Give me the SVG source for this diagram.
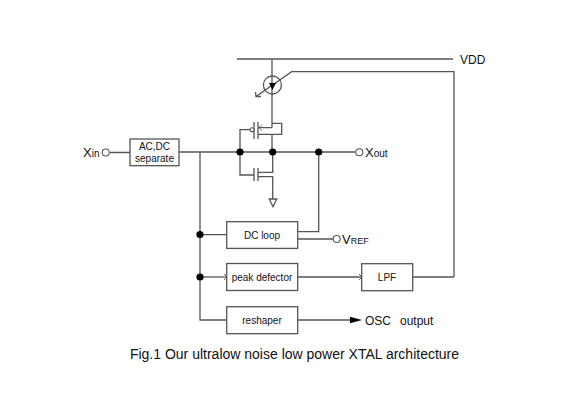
<svg xmlns="http://www.w3.org/2000/svg" width="568" height="420" viewBox="0 0 568 420">
<style>
.w{fill:none;stroke:#555;stroke-width:1.3}
.t{fill:none;stroke:#555;stroke-width:.8}
.b{fill:#fff;stroke:#555;stroke-width:1.3}
.d{fill:#000}
.o{fill:#fff;stroke:#555;stroke-width:1.100}
text{font-family:"Liberation Sans",Arial,sans-serif;fill:#111}
.s{font-size:10px;text-anchor:middle}
.m{font-size:12px}
</style>
<defs>
<marker id="open" markerWidth="6" markerHeight="8" refX="5" refY="4" orient="auto" markerUnits="userSpaceOnUse"><path d="M2 1L5 4L2 7" fill="none" stroke="#555" stroke-width="0.9"/></marker>
</defs>
<rect width="568" height="420" fill="#fff"/>
<g id="connectors">
<path class="w" d="M237 59H453"/>
<path class="w" d="M272 59V127.700"/>
<path class="w" d="M454 277H413M454 277V71.700H291.700L256 96.500"/>
<path class="w" d="M272 127.700H258M272 123.300H281.700V134.300H258M272 134.300V152"/>
<path class="w" d="M240 152V129.700H250M240 152V175H254"/>
<path class="w" d="M258 172.300H272.700V152M258 176.700H272.700V199"/>
<path class="w" d="M254 168V181M258 168V181M254 122V139M258 122V139"/>
<path class="w" d="M110 152.500H130M179 152H355"/>
<path class="w" d="M200 152V320H227M200 234.700H227"/>
<path class="w" d="M200 277H227" marker-end="url(#open)"/>
<path class="w" d="M298 277H362" marker-end="url(#open)"/>
<path class="w" d="M298 231.700H318.700V152M298 239H333"/>
<path class="w" d="M298 320H352"/>
<path d="M350 316.800L362 320L350 323.200Z" fill="#000"/>
<path class="t" d="M262 124.500L259 127.700L262 131"/>
</g>
<g id="transistor-top">
<circle class="w" cx="272.400" cy="85" r="9"/>
<path class="d" d="M269 83H276L272.400 90Z"/>
<path class="w" d="M255.500 92L256 96.500L261 96.500"/>
</g>
<g id="junctions">
<circle class="d" cx="240" cy="152" r="3.600"/>
<circle class="d" cx="272.700" cy="152" r="3.600"/>
<circle class="d" cx="318.700" cy="152" r="3.600"/>
<circle class="d" cx="200" cy="234.500" r="3.600"/>
<circle class="d" cx="200" cy="277" r="3.600"/>
<circle class="o" cx="252" cy="129.700" r="2"/>
</g>
<g id="ground"><path class="w" d="M269.300 199H276.700L273 206.700Z"/></g>
<g id="xin"><circle class="o" cx="105.700" cy="152.500" r="3.500"/><text x="83" y="157" font-size="13">X<tspan font-size="10">in</tspan></text></g>
<g id="xout"><circle class="o" cx="359.300" cy="152.300" r="3.500"/><text x="365" y="157" font-size="13">X<tspan font-size="10">out</tspan></text></g>
<g id="vref"><circle class="o" cx="336.700" cy="239" r="3.500"/><text x="342" y="244" font-size="13">V<tspan font-size="9">REF</tspan></text></g>
<g id="vdd"><text x="460" y="63.500" class="m">VDD</text></g>
<g id="acdc"><rect class="b" x="130" y="139" width="49" height="26.700"/><text class="s" x="154.500" y="150">AC,DC</text><text class="s" x="154.500" y="162">separate</text></g>
<g id="dcloop"><rect class="b" x="226.700" y="221.700" width="71" height="26.700"/><text class="s" x="262" y="238.500">DC loop</text></g>
<g id="peak"><rect class="b" x="226.700" y="263.500" width="71" height="27"/><text class="s" x="262" y="280.500">peak defector</text></g>
<g id="reshaper"><rect class="b" x="226.700" y="306.700" width="71" height="27"/><text class="s" x="262" y="323.500">reshaper</text></g>
<g id="lpf"><rect class="b" x="361.700" y="263.700" width="51" height="27"/><text class="s" x="387" y="281">LPF</text></g>
<g id="osc"><text x="365" y="324.500" class="m">OSC</text><text x="400" y="324.500" class="m">output</text></g>
<g id="caption"><text x="294.500" y="359" font-size="14" text-anchor="middle">Fig.1 Our ultralow noise low power XTAL architecture</text></g>
</svg>
